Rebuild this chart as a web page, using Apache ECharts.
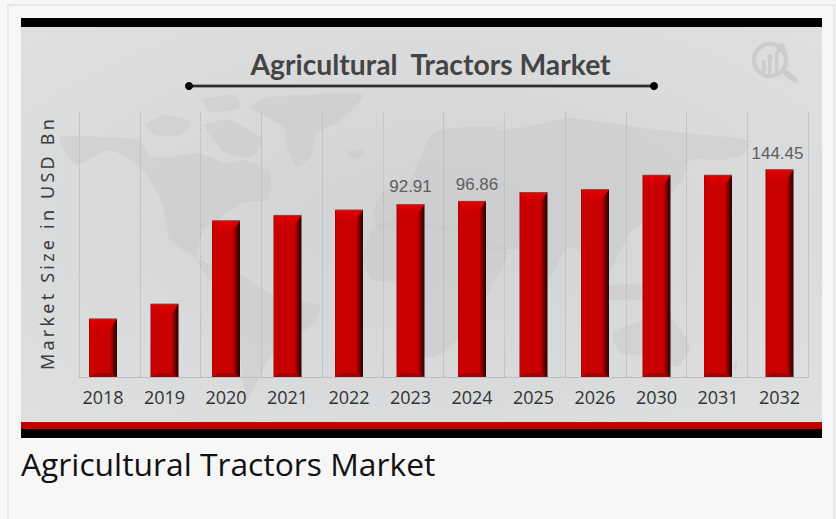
<!DOCTYPE html>
<html>
<head>
<meta charset="utf-8">
<style>
html,body{margin:0;padding:0;background:#f7f7f7;}
#chart{width:836px;height:519px;}
/* the rotated axis name is set with wide tracking */
svg text[style*="Noto Sans"]{letter-spacing:3.2px;}
</style>
<script src="https://cdn.jsdelivr.net/npm/echarts@6/dist/echarts.min.js"></script>
</head>
<body>
<div id="chart"></div>
<script>
const years = ['2018','2019','2020','2021','2022','2023','2024','2025','2026','2030','2031','2032'];
const marketSize = [21.9,26.4,75.7,81.1,86.8,92.91,96.86,108.2,112.3,134.8,134.8,144.45];
const labelledYears = ['2023','2024','2032'];
const chartTitle = 'Agricultural  Tractors Market';
const axisName = 'Market Size in USD Bn';
const caption = 'Agricultural Tractors Market';

// Faint world silhouette behind the plot
const continents = [
  // North and Central America
  [[60,137],[103,137],[140,140],[150,157],[170,157],[197,153],[227,163],[243,160],[270,170],[270,190],[268,200],[242,203],[217,220],[203,230],[197,260],[208,278],[233,288],[240,270],[205,262],[170,240],[163,205],[143,170],[110,150],[75,165]],
  // South America
  [[232,272],[276,296],[320,306],[313,323],[290,343],[270,357],[258,380],[247,400],[243,380],[237,323]],
  // Arctic islands
  [[146,125],[165,115],[190,122],[180,135],[155,135]],
  [[205,125],[230,120],[262,140],[250,158],[222,150]],
  [[203,100],[235,95],[240,108],[210,112]],
  // Greenland
  [[250,107],[270,97],[363,95],[337,123],[317,133],[310,157],[297,167],[287,147],[283,127]],
  // Iceland
  [[347,152],[363,150],[363,157],[350,158]],
  // Eurasia
  [[373,213],[384,190],[410,180],[433,133],[470,127],[500,127],[497,130],[527,127],[567,118],[610,123],[683,133],[747,140],[745,153],[723,160],[690,160],[683,180],[673,190],[667,207],[630,233],[617,258],[603,280],[590,257],[567,247],[550,277],[533,250],[507,250],[490,250],[470,235],[400,223],[380,230]],
  // Africa
  [[363,257],[375,225],[400,222],[450,228],[507,250],[490,290],[473,323],[443,353],[427,357],[415,320],[405,285],[373,280]],
  // Islands of south-east Asia
  [[597,287],[640,285],[657,297],[610,300]],
  // Australia
  [[613,333],[643,320],[670,317],[690,347],[677,367],[657,357],[620,353]],
  // New Zealand
  [[732,366],[738,360],[735,372]]
];

const mapGraphics = continents.map(points => ({
  type: 'polygon', z: -8, silent: true,
  shape: { points: points, smooth: 0.2 },
  style: { fill: '#c7c8ca', opacity: 0.45 }
}));

const logoColor = '#cbccce';
const logoBars = [[762,60,3.5,14],[768,57,3.5,17],[775,51,3.5,23]];

const chart = echarts.init(document.getElementById('chart'), null, { renderer: 'svg', width: 836, height: 519 });

// Bevelled top and foot of each bar, placed through the axis scales
function renderBevel(params, api) {
  const base = api.coord([api.value(0), api.value(1)]);
  const foot = api.coord([api.value(0), 10.5]);
  const half = 14, x0 = base[0] - half, x1 = base[0] + half, top = base[1], bottom = foot[1];
  return {
    type: 'group',
    children: [
      { type: 'polygon', shape: { points: [[x0 + 0.5, top], [x1, top], [x1 - 8, top + 11], [x0 + 5, top + 11]] },
        style: { fill: { type: 'linear', x: 0, y: 0, x2: 0, y2: 1, colorStops: [
          { offset: 0, color: '#e00000' }, { offset: 1, color: '#cc0000' } ] } } },
      { type: 'rect', shape: { x: x0, y: top - 0.5, width: 28, height: 1 }, style: { fill: '#8f4040' } },
      { type: 'polygon', shape: { points: [[x0, bottom], [x1, bottom], [x1 - 6, bottom - 4], [x0 + 6, bottom - 4]] },
        style: { fill: '#a40000' } }
    ]
  };
}

chart.setOption({
  animation: false,
  backgroundColor: '#f7f7f7',
  grid: [
    { left: 72.25, top: 112, width: 738, height: 265 },
    { left: 79, top: 112, width: 729, height: 265 }
  ],
  xAxis: [
    {
      type: 'category',
      gridIndex: 0,
      data: years,
      axisTick: { show: false },
      axisLine: { show: false },
      axisLabel: { margin: 11, fontFamily: 'Open Sans', fontSize: 18, color: '#333333', interval: 0 },
      splitLine: { show: false }
    },
    {
      type: 'category',
      gridIndex: 1,
      data: years,
      axisTick: { show: false },
      axisLabel: { show: false },
      axisLine: { show: true, lineStyle: { color: '#bdbec0', width: 1 } },
      splitLine: { show: true, interval: 0, lineStyle: { color: '#b0b1b3', type: 'dotted', width: 1 } }
    }
  ],
  yAxis: [
    { type: 'log', gridIndex: 0, min: 10.5, max: 300, show: false, splitLine: { show: false } },
    { type: 'value', gridIndex: 1, show: false, splitLine: { show: false } }
  ],
  series: [
    {
      type: 'bar',
      xAxisIndex: 0,
      yAxisIndex: 0,
      data: years.map((y, i) => ({
        value: marketSize[i],
        label: { show: labelledYears.includes(y), offset: y === '2024' ? [5, 0] : y === '2032' ? [-2, 0] : [0, -2] }
      })),
      barWidth: 28,
      startValue: 10.5,
      z: 3,
      label: {
        position: 'top', distance: 8, fontFamily: 'Liberation Sans', fontSize: 17, color: '#5e5e5e',
        formatter: p => p.value.toFixed(2)
      },
      itemStyle: {
        color: {
          type: 'linear', x: 0, y: 0, x2: 1, y2: 0,
          colorStops: [
            { offset: 0, color: '#a80000' }, { offset: 0.05, color: '#c80000' },
            { offset: 0.75, color: '#c80000' }, { offset: 0.93, color: '#4a0303' }, { offset: 1, color: '#2a0505' }
          ]
        }
      }
    },
    {
      type: 'custom',
      xAxisIndex: 0,
      yAxisIndex: 0,
      z: 4,
      silent: true,
      renderItem: renderBevel,
      data: years.map((y, i) => [i, marketSize[i]])
    }
  ],
  graphic: [
    { type: 'rect', z: -10, silent: true, shape: { x: 8, y: 5, width: 826, height: 530 },
      style: { fill: '#f7f7f7', stroke: '#e8e8e8', lineWidth: 2 } },
    { type: 'rect', z: -9, silent: true, shape: { x: 21, y: 27, width: 801, height: 395 },
      style: { fill: { type: 'radial', x: 0.5, y: 0.5, r: 0.72, colorStops: [
        { offset: 0, color: '#d1d2d4' }, { offset: 1, color: '#dfe0e0' } ] } } },
    ...mapGraphics,
    { type: 'rect', z: -7, silent: true, shape: { x: 21, y: 18, width: 801, height: 9 }, style: { fill: '#000000' } },
    { type: 'rect', z: -7, silent: true, shape: { x: 21, y: 422, width: 801, height: 7 }, style: { fill: '#c20000' } },
    { type: 'rect', z: -7, silent: true, shape: { x: 21, y: 429, width: 801, height: 9 }, style: { fill: '#000000' } },
    // title rule with end dots
    { type: 'rect', z: 1, silent: true, shape: { x: 189, y: 84, width: 465, height: 4 }, style: { fill: '#9a9a9c' } },
    { type: 'rect', z: 1, silent: true, shape: { x: 189, y: 85, width: 465, height: 2 }, style: { fill: '#2a2a2a' } },
    { type: 'circle', z: 1, silent: true, shape: { cx: 189, cy: 86, r: 4 }, style: { fill: '#000000' } },
    { type: 'circle', z: 1, silent: true, shape: { cx: 654, cy: 86, r: 4 }, style: { fill: '#000000' } },
    { type: 'text', z: 1, silent: true, x: 430.5, y: 64,
      style: { text: chartTitle, fontFamily: 'Lato', fontWeight: 'bold', fontSize: 28.3, fill: '#444444', align: 'center', verticalAlign: 'middle' } },
    { type: 'text', z: 1, silent: true, x: 47, y: 243, rotation: Math.PI / 2,
      style: { text: axisName, fontFamily: 'Noto Sans', fontSize: 18, fill: '#3c3c3c', align: 'center', verticalAlign: 'middle' } },
    { type: 'text', z: 1, silent: true, x: 21, y: 463,
      style: { text: caption, fontFamily: 'Open Sans', fontSize: 31.8, fill: '#111111', align: 'left', verticalAlign: 'middle' } },
    // watermark logo
    { type: 'circle', z: -6, silent: true, shape: { cx: 770, cy: 60, r: 16 }, style: { fill: 'none', stroke: logoColor, lineWidth: 4.5 } },
    { type: 'circle', z: -6, silent: true, shape: { cx: 781, cy: 48, r: 4.5 }, style: { fill: logoColor } },
    ...logoBars.map(b => ({ type: 'rect', z: -6, silent: true, shape: { x: b[0], y: b[1], width: b[2], height: b[3], r: 1.5 }, style: { fill: logoColor } })),
    { type: 'circle', z: -6, silent: true, shape: { cx: 770, cy: 57, r: 3 }, style: { fill: logoColor } },
    { type: 'line', z: -6, silent: true, shape: { x1: 786, y1: 73, x2: 795, y2: 80 }, style: { stroke: logoColor, lineWidth: 6, lineCap: 'round' } }
  ]
});
</script>
</body>
</html>
